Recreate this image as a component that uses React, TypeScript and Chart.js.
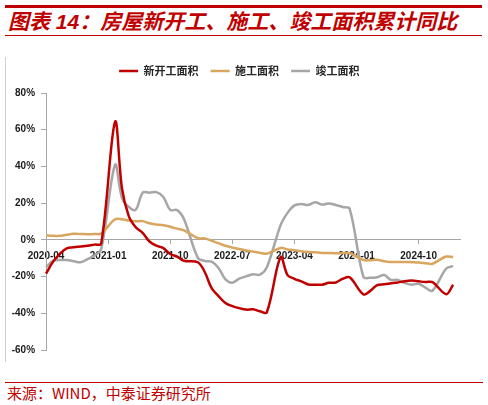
import React, { useEffect, useRef } from 'react'
import { Chart, registerables } from 'chart.js'

Chart.register(...registerables)

// monthly categories, 2020-04 .. 2025-04 (January has no cumulative figure)
const months = [
  '2020-04', '2020-05', '2020-06', '2020-07', '2020-08', '2020-09', '2020-10', '2020-11', '2020-12',
  '2021-01', '2021-02', '2021-03', '2021-04', '2021-05', '2021-06', '2021-07', '2021-08', '2021-09', '2021-10', '2021-11', '2021-12',
  '2022-01', '2022-02', '2022-03', '2022-04', '2022-05', '2022-06', '2022-07', '2022-08', '2022-09', '2022-10', '2022-11', '2022-12',
  '2023-01', '2023-02', '2023-03', '2023-04', '2023-05', '2023-06', '2023-07', '2023-08', '2023-09', '2023-10', '2023-11', '2023-12',
  '2024-01', '2024-02', '2024-03', '2024-04', '2024-05', '2024-06', '2024-07', '2024-08', '2024-09', '2024-10', '2024-11', '2024-12',
  '2025-01', '2025-02', '2025-03', '2025-04',
]
const xTickLabels = ['2020-04', '2021-01', '2021-10', '2022-07', '2023-04', '2024-01', '2024-10']
const yTicks = [-60, -40, -20, 0, 20, 40, 60, 80]

// 新开工面积 累计同比 (%)
const newStarts = [
  -18.4, -12.0, -7.6, -4.6, -4.0, -3.6, -3.2, -2.6, -2.0,
  null, 64.3, 28.2, 12.8, 6.9, 3.8, -0.9, -3.2, -4.5, -7.7, -9.1, -11.4,
  null, -12.2, -17.5, -26.3, -30.6, -34.4, -36.1, -37.2, -38.0, -37.8, -38.9, -39.4,
  null, -9.4, -19.2, -21.2, -22.6, -24.3, -24.5, -24.4, -23.4, -23.2, -21.2, -20.4,
  null, -29.7, -27.8, -24.6, -24.2, -23.7, -23.2, -22.5, -22.2, -22.6, -23.0, -23.0,
  null, -29.6, -24.4,
]
// 施工面积 累计同比 (%)
const underConstruction = [
  2.5, 2.2, 2.2, 2.8, 3.3, 3.2, 3.1, 3.2, 3.5,
  null, 11.2, 11.2, 10.5, 10.1, 10.2, 9.0, 8.4, 7.9, 7.1, 6.1, 5.2,
  null, 0.9, 0.8, -0.5, -1.8, -3.2, -4.2, -5.0, -5.8, -6.4, -7.0, -7.5,
  null, -4.4, -5.2, -5.6, -6.2, -6.6, -6.8, -7.1, -7.1, -7.3, -7.2, -7.2,
  null, -11.0, -11.1, -10.8, -11.6, -12.0, -12.1, -12.0, -12.2, -12.4, -12.7, -13.0,
  null, -9.1, -9.5,
]
// 竣工面积 累计同比 (%)
const completed = [
  -15.0, -11.5, -11.0, -11.0, -11.6, -12.2, -10.5, -8.5, -5.0,
  null, 40.8, 22.9, 17.9, 16.4, 25.7, 25.7, 26.0, 23.4, 16.3, 16.2, 11.2,
  null, -9.8, -11.5, -11.9, -15.3, -21.5, -23.3, -21.1, -19.9, -18.7, -19.0, -15.0,
  null, 8.0, 14.7, 18.8, 19.6, 19.0, 20.5, 19.2, 19.8, 19.0, 17.9, 17.0,
  null, -20.2, -20.7, -20.4, -19.2, -21.8, -21.8, -23.6, -24.4, -23.9, -26.0, -27.7,
  null, -15.6, -14.3,
]

const RED = '#C00000'
const AXIS = '#A6A6A6'
const tickFont = { family: '"Liberation Sans", Arial, sans-serif', size: 10, weight: 'bold' as const }

// more room under the legend, and centre it on the page rather than the padded box
const legendTweak = {
  id: 'legendTweak',
  beforeInit(chart: any) {
    const legend = chart.legend
    if (!legend) return
    const fit = legend.fit
    legend.fit = function () {
      fit.call(this)
      this.height += 6.5
    }
  },
  afterLayout(chart: any) {
    if (!chart.legend) return
    chart.legend.left += 6.5
    chart.legend.right += 6.5
  },
}

function HousingChart() {
  const canvasRef = useRef<HTMLCanvasElement>(null)
  const chartRef = useRef<Chart | null>(null)

  useEffect(() => {
    if (!canvasRef.current) return
    if (chartRef.current) chartRef.current.destroy()

    const line = (label: string, data: (number | null)[], color: string) => ({
      label,
      data,
      borderColor: color,
      backgroundColor: color,
      borderWidth: 2.5,
      pointRadius: 0,
      tension: 0.35,
      spanGaps: true,
    })

    chartRef.current = new Chart(canvasRef.current, {
      type: 'line',
      data: {
        labels: months,
        datasets: [
          line('新开工面积', newStarts, RED),
          line('施工面积', underConstruction, '#D9A65F'),
          line('竣工面积', completed, '#A6A6A6'),
        ],
      },
      options: {
        animation: false,
        responsive: true,
        maintainAspectRatio: false,
        layout: { padding: { top: 13.5, left: 5.7, right: 28, bottom: 20 } },
        plugins: {
          tooltip: { enabled: false },
          legend: {
            labels: {
              usePointStyle: true,
              pointStyle: 'line',
              pointStyleWidth: 19,
              padding: 12,
              color: '#262626',
              font: { family: '"Noto Sans CJK SC", sans-serif', size: 11, weight: 'bold' },
            },
          },
        },
        scales: {
          x: {
            position: { y: 0 },
            grid: {
              drawOnChartArea: false,
              tickLength: 4,
              color: (ctx) => (xTickLabels.includes(months[ctx.index]) ? AXIS : 'rgba(0,0,0,0)'),
            },
            border: { color: AXIS },
            ticks: {
              autoSkip: false,
              maxRotation: 0,
              padding: 6.5,
              color: '#1a1a1a',
              font: tickFont,
              callback: (_v, i) => (xTickLabels.includes(months[i]) ? months[i] : ''),
            },
          },
          y: {
            min: -60,
            max: 80,
            afterBuildTicks: (axis) => {
              axis.ticks = yTicks.map((value) => ({ value }))
            },
            grid: { drawOnChartArea: false, tickLength: 5, color: AXIS },
            border: { color: AXIS },
            ticks: {
              padding: 6,
              color: '#1a1a1a',
              font: tickFont,
              callback: (v) => `${v}%`,
            },
          },
        },
      },
      plugins: [legendTweak],
    })

    return () => chartRef.current?.destroy()
  }, [])

  return <canvas ref={canvasRef} />
}

export default function App() {
  return (
    <div style={{ position: 'fixed', left: 0, top: 0, width: 488, height: 405, background: '#fff', overflow: 'hidden' }}>
      <div style={{ position: 'absolute', left: 5, top: 4.5, width: 477, height: 3, background: RED }} />
      <div
        style={{
          position: 'absolute',
          left: 8,
          top: 9,
          lineHeight: '26px',
          whiteSpace: 'nowrap',
          color: RED,
          fontSize: 21,
          fontStyle: 'italic',
          fontWeight: 'bold',
          fontFamily: '"Liberation Sans", "Noto Sans CJK SC", sans-serif',
        }}
      >
        图表 14：房屋新开工、施工、竣工面积累计同比
      </div>
      <div style={{ position: 'absolute', left: 5, top: 34.5, width: 477, height: 1, background: RED }} />
      <div style={{ position: 'absolute', left: 5, top: 57, width: 1, height: 305, background: '#D0D0D0' }} />
      <div style={{ position: 'absolute', left: 0, top: 40, width: 488, height: 330 }}>
        <HousingChart />
      </div>
      <div style={{ position: 'absolute', left: 5, top: 382, width: 478, height: 1, background: RED }} />
      <div
        style={{
          position: 'absolute',
          left: 7,
          top: 384,
          lineHeight: '18px',
          whiteSpace: 'nowrap',
          color: RED,
          fontSize: 15,
          fontFamily: '"Noto Sans CJK SC", sans-serif',
        }}
      >
        来源：WIND，中泰证券研究所
      </div>
    </div>
  )
}
